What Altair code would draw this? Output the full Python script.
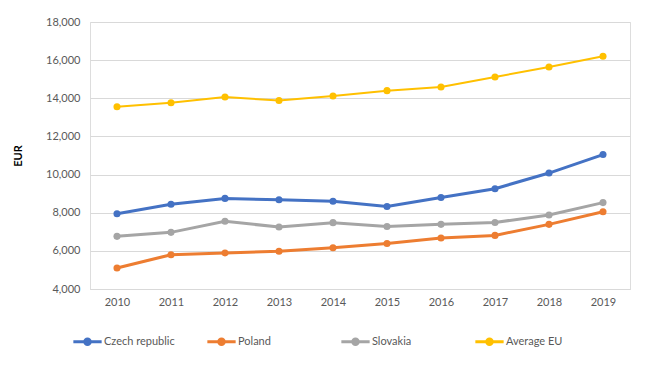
import altair as alt
import pandas as pd

years = ["2010", "2011", "2012", "2013", "2014", "2015", "2016", "2017", "2018", "2019"]
series_names = ["Czech republic", "Poland", "Slovakia", "Average EU"]
czech = [7950, 8440, 8750, 8680, 8600, 8330, 8800, 9260, 10080, 11050]
poland = [5100, 5800, 5890, 5980, 6160, 6390, 6670, 6810, 7390, 8050]
slovakia = [6760, 6970, 7550, 7250, 7480, 7280, 7390, 7490, 7880, 8530]
avg_eu = [13560, 13770, 14070, 13880, 14120, 14400, 14590, 15120, 15640, 16200]
colors = ["#4472C4", "#ED7D31", "#A5A5A5", "#FFC000"]
y_ticks = [4000, 6000, 8000, 10000, 12000, 14000, 16000, 18000]

rows = []
for name, vals in zip(series_names, [czech, poland, slovakia, avg_eu]):
    for yr, v in zip(years, vals):
        rows.append({"year": yr, "value": v, "series": name})
df = pd.DataFrame(rows)

FONT = "Lato"
GRAY = "#595959"
GRID = "#D9D9D9"

x_enc = alt.X("year:N", sort=years, title=None,
              scale=alt.Scale(padding=0.5),
              axis=alt.Axis(labelAngle=0, labelPadding=7, ticks=False, grid=False,
                            domainColor=GRID, labelColor=GRAY, labelFontSize=11, labelFont=FONT))
y_enc = alt.Y("value:Q", title="EUR",
              scale=alt.Scale(domain=[4000, 18000], nice=False),
              axis=alt.Axis(values=y_ticks, format=",d", ticks=False, domain=False,
                            gridColor=GRID, labelColor=GRAY, labelFontSize=11, labelFont=FONT,
                            labelPadding=10, titleFont=FONT, titleFontSize=11, titleFontWeight="bold",
                            titleColor="#000000", titleX=-72, titleY=133.5, titleAngle=-90,
                            titleAlign="center", titleBaseline="middle"))

color_scale = alt.Scale(domain=series_names, range=colors)

lines = alt.Chart(df).mark_line().encode(
    x=x_enc, y=y_enc,
    color=alt.Color("series:N", scale=color_scale, sort=series_names, legend=None),
    strokeWidth=alt.condition(alt.datum.series == "Average EU", alt.value(2), alt.value(3)),
)

sym_path = "M-1,-0.1H1V0.1H-1Z M0.3,0 A0.3,0.3 0 1,1 -0.3,0 A0.3,0.3 0 1,1 0.3,0Z"

points = alt.Chart(df).mark_point(filled=True, size=50, opacity=1).encode(
    x=x_enc, y=y_enc,
    color=alt.Color("series:N", scale=color_scale, sort=series_names, title=None,
                    legend=alt.Legend(orient="none", legendX=-17, legendY=305, direction="horizontal",
                                      columns=4, gridAlign="all", columnPadding=32,
                                      symbolType=sym_path, symbolSize=800, symbolStrokeWidth=0,
                                      labelFont=FONT, labelFontSize=11, labelColor=GRAY,
                                      labelOffset=2)),
)

chart = alt.layer(lines, points).resolve_legend(color="independent").properties(
    width=540, height=267,
    autosize=alt.AutoSizeParams(type="none"),
    padding={"left": 82, "top": 14, "right": 18, "bottom": 70},
).configure_view(stroke=None).configure(font=FONT)

chart.save("out.html", embed_options={"renderer": "svg", "actions": False})
